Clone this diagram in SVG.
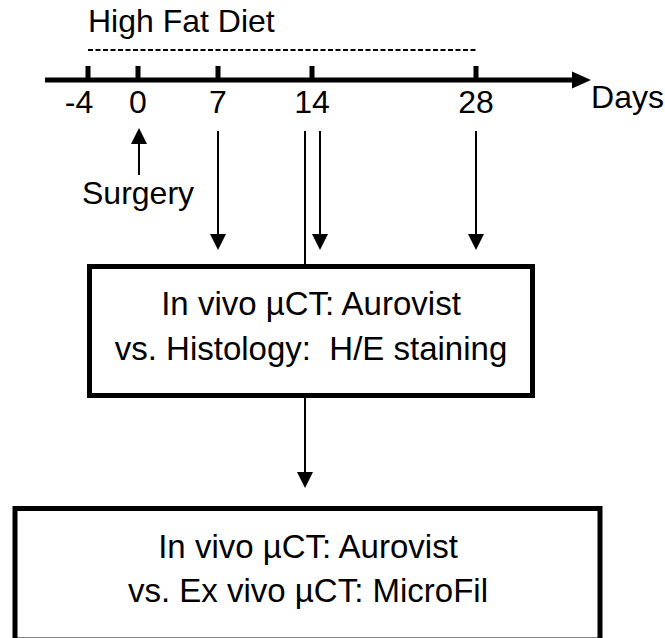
<svg xmlns="http://www.w3.org/2000/svg" width="665" height="638" viewBox="0 0 665 638">
  <style>
    text { font-family: "Liberation Sans", Arial, sans-serif; font-size: 32px; fill: #000; white-space: pre; }
    .c { text-anchor: middle; }
    .bt { font-size: 33px; }
    .box { fill: #fff; stroke: #000; stroke-width: 5; }
    .ln { stroke: #000; stroke-width: 2; fill: none; }
    .tick { fill: #000; }
  </style>
  <defs>
    <marker id="ah" viewBox="0 0 16 16" refX="1" refY="8" markerWidth="16" markerHeight="16" markerUnits="userSpaceOnUse" orient="auto">
      <path d="M0,0 L16,8 L0,16 z" fill="#000"/>
    </marker>
  </defs>
  <rect width="665" height="638" fill="#fff"/>

  <g id="timeline">
    <text id="hfd" x="88" y="32">High Fat Diet</text>
    <line x1="88" y1="50" x2="477" y2="50" stroke="#000" stroke-width="2" stroke-dasharray="5 2.5"/>
    <line x1="45" y1="80" x2="573" y2="80" stroke="#000" stroke-width="5"/>
    <polygon points="572,71.5 591,80 572,88.5" fill="#000"/>
    <rect class="tick" x="85.5" y="66" width="5" height="14"/>
    <rect class="tick" x="135.5" y="66" width="5" height="14"/>
    <rect class="tick" x="215.5" y="66" width="5" height="14"/>
    <rect class="tick" x="309.5" y="66" width="5" height="14"/>
    <rect class="tick" x="473.5" y="66" width="5" height="14"/>
    <text class="c" x="79" y="113">-4</text>
    <text class="c" x="138" y="113">0</text>
    <text class="c" x="218" y="113">7</text>
    <text class="c" x="312" y="113">14</text>
    <text class="c" x="476" y="113">28</text>
    <text x="664" y="108" text-anchor="end">Days</text>
    <text id="surgery" x="82" y="204">Surgery</text>
  </g>

  <g id="connectors">
    <line class="ln" x1="139" y1="175" x2="139" y2="143" marker-end="url(#ah)"/>
    <line class="ln" x1="218" y1="131" x2="218" y2="235" marker-end="url(#ah)"/>
    <line class="ln" x1="320" y1="131" x2="320" y2="235" marker-end="url(#ah)"/>
    <line class="ln" x1="476" y1="131" x2="476" y2="235" marker-end="url(#ah)"/>
    <line class="ln" x1="305" y1="131" x2="305" y2="266"/>
    <line class="ln" x1="305" y1="396" x2="305" y2="473" marker-end="url(#ah)"/>
  </g>

  <g id="box1">
    <rect class="box" x="89.5" y="266.5" width="443" height="129"/>
    <text class="c bt" x="311" y="315">In vivo µCT: Aurovist</text>
    <text class="c bt" x="311" y="360">vs. Histology:  H/E staining</text>
  </g>

  <g id="box2">
    <rect class="box" x="15" y="508.5" width="585" height="131.5"/>
    <text class="c bt" x="308" y="558">In vivo µCT: Aurovist</text>
    <text class="c bt" x="308" y="602">vs. Ex vivo µCT: MicroFil</text>
  </g>
</svg>
